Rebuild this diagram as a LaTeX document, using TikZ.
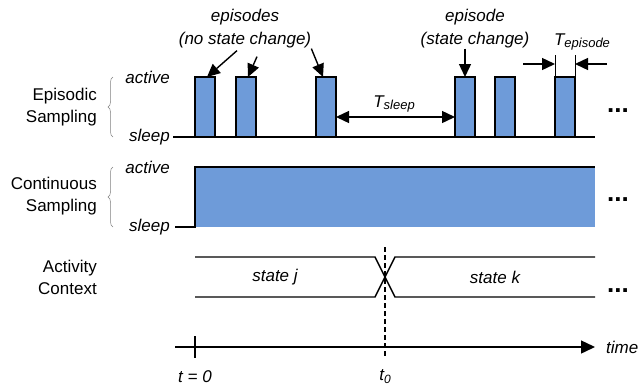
\documentclass[tikz,border=0pt]{standalone}
\usepackage{fontspec}
\setmainfont{Liberation Sans}
\usetikzlibrary{arrows.meta,decorations.pathreplacing}
\definecolor{pulseblue}{HTML}{6E9BD9}
\tikzset{
  rowlabel/.style={font=\fontsize{17}{22}\selectfont, align=right, anchor=east, inner sep=0pt},
  levellabel/.style={font=\fontsize{17}{20}\selectfont\itshape, anchor=east, inner sep=0pt},
  note/.style={font=\fontsize{17}{23}\selectfont\itshape, align=center, inner sep=0pt},
  dots/.style={font=\fontsize{26}{26}\selectfont\bfseries, inner sep=0pt},
  wave/.style={line width=1.4pt},
  bigarrow/.style={line width=1.4pt, -{Triangle[length=13pt,width=12pt]}},
  levelbrace/.style={decorate, decoration={brace,amplitude=5pt}, gray, line width=0.5pt}
}
\begin{document}
\begin{tikzpicture}[x=1pt,y=-1pt]
\useasboundingbox (0,0) rectangle (639,386);

% episodic sampling
\foreach \x in {195,236,316,455,495,555}
{
    \fill[pulseblue](\x,77)rectangle(\x+20,137);
    \draw[wave](\x,137)--(\x,77)--(\x+20,77)--(\x+20,137);
}
\draw[wave](173,137)--(595,137);
\node[rowlabel] (epis) at (97,107) {Episodic\\Sampling};
\node[levellabel] (eact) at (170,77) {active};
\node[levellabel] (eslp) at (170,137) {sleep};
\draw[levelbrace](113,137)--(113,77);
\node[dots] (edots) at (618,111) {...};

\coordinate (top1) at (207,77);
\coordinate (top2) at (248,77);
\coordinate (top3) at (323,77);
\coordinate (top4) at (465,77);
\node[note] (nochg) at (245,29) {episodes\\(no state change)};
\node[note] (chg) at (475,29) {episode\\(state change)};
\draw[bigarrow]([xshift=-8pt,yshift=-2pt]nochg.south)--(top1);
\draw[bigarrow]([xshift=12pt,yshift=-8pt]nochg.south)--(top2);
\draw[bigarrow]([xshift=0pt,yshift=0pt]nochg.south east)--(top3);
\draw[bigarrow]([xshift=-10pt]chg.south)--(top4);

% sleep and episode lengths
\coordinate (sl) at (336,117);
\coordinate (sr) at (455,117);
\draw[line width=1.4pt,{Triangle[length=13pt,width=12pt]}-{Triangle[length=13pt,width=12pt]}](sl)--(sr);
\node[inner sep=0pt] (tsleep) at (394,104) {\fontsize{17}{17}\selectfont\itshape T\fontsize{13}{13}\selectfont\raisebox{-2pt}{sleep}};
\draw[line width=0.9pt](555,55)--(555,77);
\draw[line width=0.9pt](575,55)--(575,77);
\coordinate (el) at (555,64);
\coordinate (er) at (575,64);
\draw[bigarrow](523,64)--(el);
\draw[bigarrow](607,64)--(er);
\node[inner sep=0pt] (tepi) at (582,42) {\fontsize{17}{17}\selectfont\itshape T\fontsize{13}{13}\selectfont\raisebox{-2pt}{episode}};

% continuous sampling
\fill[pulseblue](195,167)rectangle(595,227);
\draw[wave](175,227)--(195,227)--(195,167)--(595,167);
\node[rowlabel] (cont) at (97,196) {Continuous\\Sampling};
\node[levellabel] (cact) at (170,167) {active};
\node[levellabel] (cslp) at (170,227) {sleep};
\draw[levelbrace](113,227)--(113,167);
\node[dots] (cdots) at (618,200) {...};

% activity context
\node[rowlabel] (ctx) at (97,277) {Activity\\Context};
\draw[wave](195,257)--(375,257)--(395,297)--(595,297);
\draw[wave](195,297)--(375,297)--(395,257)--(595,257);
\node[note] (stj) at (275,277) {state \textit{j}};
\node[note] (stk) at (495,277) {state \textit{k}};
\node[dots] (adots) at (618,291) {...};

% time axis
\draw[line width=1.4pt,-{Triangle[length=14pt,width=13pt]}](175,347)--(595,347);
\draw[line width=1.4pt](195,336)--(195,358);
\draw[line width=1.2pt,dash pattern=on 5pt off 3pt](385,247)--(385,357);
\node[note] (tzero) at (195,377) {t = 0};
\node[inner sep=0pt] (tnull) at (385,377) {\fontsize{17}{17}\selectfont\itshape t\fontsize{12}{12}\selectfont\raisebox{-3pt}{0}};
\node[note, anchor=west] (time) at (606,347) {time};
\end{tikzpicture}
\end{document}
